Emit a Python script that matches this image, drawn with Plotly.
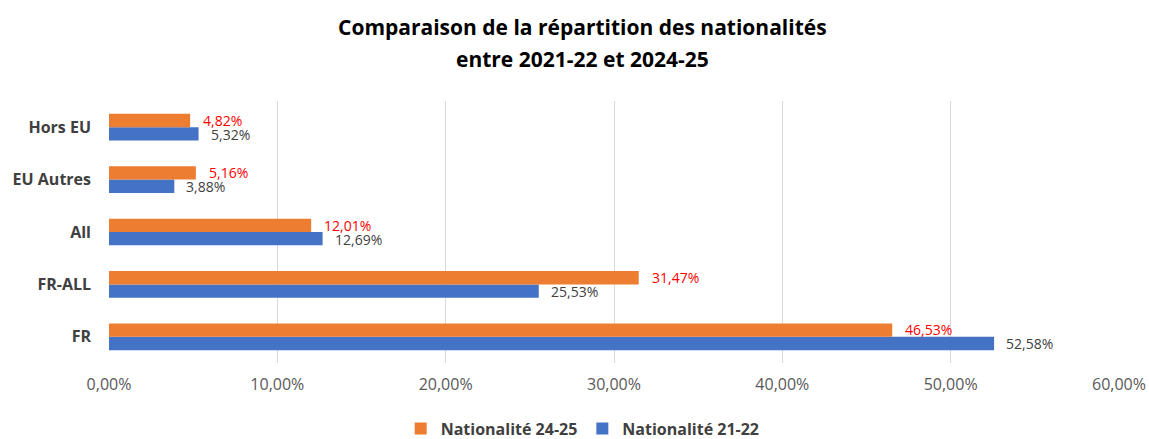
import plotly.graph_objects as go

# Données (parts en %)
categories = ["FR", "FR-ALL", "All", "EU Autres", "Hors EU"]
nat_21_22 = [52.58, 25.53, 12.69, 3.88, 5.32]
nat_24_25 = [46.53, 31.47, 12.01, 5.16, 4.82]
x_ticks = [0, 10, 20, 30, 40, 50, 60]

FONT = "Open Sans"
BLUE = "#4472C4"
ORANGE = "#ED7D31"
CENTER = 0.469  # le titre et la légende sont centrés sur la page, pas sur la zone de tracé


def fr_pct(v):
    return f"{v:.2f}%".replace(".", ",")


fig = go.Figure()

fig.add_trace(go.Bar(
    y=categories, x=nat_21_22, orientation="h",
    name="<b>Nationalité 21-22</b>",
    marker=dict(color=BLUE, line=dict(width=0)),
))
fig.add_trace(go.Bar(
    y=categories, x=nat_24_25, orientation="h",
    name="<b>Nationalité 24-25</b>",
    marker=dict(color=ORANGE, line=dict(width=0)),
))

# étiquettes de données (à droite de chaque barre)
for cat, v in zip(categories, nat_21_22):
    fig.add_annotation(x=v, y=cat, xref="x", yref="y", text=fr_pct(v),
                       showarrow=False, xanchor="left", yanchor="middle",
                       xshift=10, yshift=-7,
                       font=dict(size=14, color="#404040", family=FONT))
for cat, v in zip(categories, nat_24_25):
    fig.add_annotation(x=v, y=cat, xref="x", yref="y", text=fr_pct(v),
                       showarrow=False, xanchor="left", yanchor="middle",
                       xshift=11, yshift=7,
                       font=dict(size=14, color="#FF0000", family=FONT))

# titre sur deux lignes
fig.add_annotation(x=CENTER, y=1.283, xref="paper", yref="paper",
                   text="<b>Comparaison de la répartition des nationalités</b>",
                   showarrow=False, xanchor="center", yanchor="middle",
                   font=dict(size=21, color="#000000", family=FONT))
fig.add_annotation(x=CENTER, y=1.159, xref="paper", yref="paper",
                   text="<b>entre 2021-22 et 2024-25</b>",
                   showarrow=False, xanchor="center", yanchor="middle",
                   font=dict(size=21, color="#000000", family=FONT))

fig.update_layout(
    width=1149, height=439,
    paper_bgcolor="white", plot_bgcolor="white",
    font=dict(family=FONT, color="#404040"),
    barmode="group", bargap=0.49, bargroupgap=0,
    margin=dict(l=109, r=30, t=101, b=76, autoexpand=False),
    showlegend=True,
    legend=dict(
        orientation="h", x=CENTER, xanchor="center", y=-0.25, yanchor="middle",
        traceorder="reversed",
        font=dict(size=16, color="#404040", family=FONT),
        itemwidth=30,
    ),
)

fig.update_xaxes(
    range=[0, 60], tickvals=x_ticks,
    ticktext=[fr_pct(v) for v in x_ticks],
    showgrid=True, gridcolor="#D9D9D9", gridwidth=1,
    zeroline=False, showline=False, automargin=False,
    tickfont=dict(size=16, color="#595959", family=FONT),
    ticklabelstandoff=10,
)
fig.update_yaxes(
    categoryorder="array", categoryarray=categories,
    tickvals=categories, ticktext=[f"<b>{c}</b>" for c in categories],
    showgrid=False, showline=False, ticks="", automargin=False,
    tickfont=dict(size=16, color="#404040", family=FONT),
    ticklabelstandoff=17,
)

fig.write_html("out.html", config={"displayModeBar": False},
               post_script="document.body.style.margin='0';")
